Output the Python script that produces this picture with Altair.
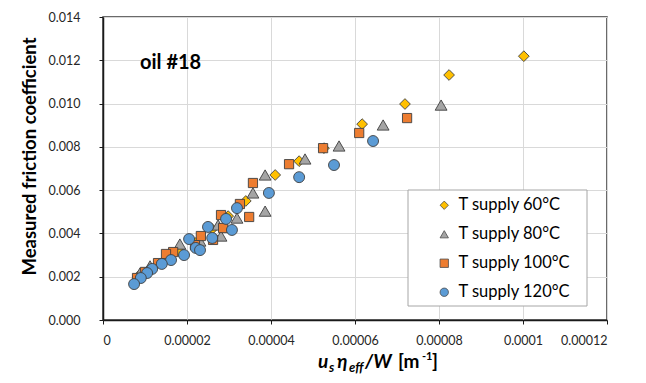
import altair as alt
import pandas as pd

# ---------------- data ----------------
series_names = ["T supply 60°C", "T supply 80°C", "T supply 100°C", "T supply 120°C"]
series_colors = ["#FFC000", "#A5A5A5", "#ED7D31", "#5B9BD5"]
series_shapes = ["diamond", "triangle-up", "square", "circle"]
series_sizes = [115, 140, 85, 120]

t60_x = [1.002e-4, 8.24e-5, 7.19e-5, 6.17e-5, 5.26e-5, 4.67e-5, 4.10e-5, 3.40e-5,
         2.98e-5, 2.60e-5, 2.21e-5, 1.83e-5, 1.43e-5, 1.07e-5, 8.3e-6]
t60_y = [0.01219, 0.01132, 0.00998, 0.00905, 0.00794, 0.00734, 0.00670, 0.00550,
         0.00480, 0.00420, 0.00356, 0.00314, 0.00268, 0.00226, 0.00200]

t80_x = [8.05e-5, 6.67e-5, 5.62e-5, 4.81e-5, 3.86e-5, 3.57e-5, 3.86e-5, 3.19e-5,
         2.74e-5, 2.81e-5, 1.83e-5, 2.31e-5, 1.48e-5, 1.12e-5, 8.8e-6]
t80_y = [0.00993, 0.00901, 0.00804, 0.00744, 0.00670, 0.00587, 0.00503, 0.00471,
         0.00439, 0.00388, 0.00351, 0.00365, 0.00286, 0.00250, 0.00217]

t100_x = [7.24e-5, 6.10e-5, 5.24e-5, 4.43e-5, 3.57e-5, 3.26e-5, 3.48e-5, 2.81e-5,
          2.86e-5, 2.62e-5, 2.33e-5, 2.19e-5, 1.67e-5, 1.50e-5, 1.31e-5, 1.00e-5, 8.1e-6]
t100_y = [0.00933, 0.00864, 0.00794, 0.00720, 0.00633, 0.00536, 0.00476, 0.00485,
          0.00425, 0.00370, 0.00388, 0.00346, 0.00314, 0.00305, 0.00263, 0.00222, 0.00194]

t120_x = [6.43e-5, 5.50e-5, 4.67e-5, 3.95e-5, 3.19e-5, 2.93e-5, 3.07e-5, 2.50e-5,
          2.60e-5, 2.05e-5, 2.21e-5, 2.31e-5, 1.93e-5, 1.62e-5, 1.40e-5, 1.17e-5,
          1.05e-5, 9.0e-6, 7.4e-6]
t120_y = [0.00827, 0.00716, 0.00660, 0.00587, 0.00517, 0.00467, 0.00416, 0.00430,
          0.00379, 0.00374, 0.00333, 0.00323, 0.00300, 0.00277, 0.00259, 0.00236,
          0.00217, 0.00194, 0.00166]

x_ticks = [0, 0.00002, 0.00004, 0.00006, 0.00008, 0.0001, 0.00012]
x_tick_labels = ["0", "0.00002", "0.00004", "0.00006", "0.00008", "0.0001", "0.00012"]
y_ticks = [0, 0.002, 0.004, 0.006, 0.008, 0.010, 0.012, 0.014]

annotation = ["oil #18"]
y_title = "Measured friction coefficient"
x_title_parts = ["u", "s", "η", "eff", "/W", "[m", "-1", "]"]

# ---------------- build table ----------------
rows = []
idx = 0
for name, xs, ys in zip(series_names, [t60_x, t80_x, t100_x, t120_x],
                        [t60_y, t80_y, t100_y, t120_y]):
    for xv, yv in zip(xs, ys):
        rows.append({"x": xv, "y": yv, "series": name, "idx": idx})
        idx += 1
df = pd.DataFrame(rows)

FONT = "Lato"
W, H = 504, 303

label_expr = "[" + ",".join("'" + s + "'" for s in x_tick_labels) + "][round(datum.value/0.00002)]"

x_enc = alt.X("x:Q", scale=alt.Scale(domain=[0, 0.00012], nice=False),
              axis=alt.Axis(values=x_ticks, labelExpr=label_expr, title=None,
                            grid=True, gridColor="#D9D9D9", domainColor="#1a1a1a",
                            domainWidth=1.5, tickColor="#1a1a1a", tickSize=4,
                            labelPadding=10, labelFontSize=12.5, labelFont=FONT,
                            labelColor="#262626"))
y_enc = alt.Y("y:Q", scale=alt.Scale(domain=[0, 0.014], nice=False),
              axis=alt.Axis(values=y_ticks, format=".3f", title=y_title,
                            grid=True, gridColor="#D9D9D9", domainColor="#1a1a1a",
                            domainWidth=1.5, tickColor="#1a1a1a", tickSize=4,
                            labelPadding=19, labelFontSize=12.5, labelFont=FONT,
                            labelColor="#262626", titleFont=FONT, titleFontSize=18.5,
                            titleFontWeight="bold", titleColor="#000000",
                            titlePadding=9, titleY=139))
color_enc = alt.Color("series:N", scale=alt.Scale(domain=series_names, range=series_colors),
                      legend=alt.Legend(title=None, orient="none", legendX=333, legendY=180,
                                        labelFont=FONT, labelFontSize=16.5, labelColor="#000000",
                                        symbolSize=70, symbolStrokeColor="#4a4a4a",
                                        symbolStrokeWidth=0.8, rowPadding=12, labelOffset=6,
                                        padding=0))
shape_enc = alt.Shape("series:N", scale=alt.Scale(domain=series_names, range=series_shapes))

# legend box (drawn below the point layers; no points fall inside it)
legend_box = alt.Chart(pd.DataFrame({"a": [1]})).mark_rect(
    fill="white", stroke="#A6A6A6", strokeWidth=1,
    x=305, x2=484, y=173, y2=289
).encode(opacity=alt.value(1))

point_layers = []
for name, size in zip(series_names, series_sizes):
    point_layers.append(
        alt.Chart(df).transform_filter(alt.datum.series == name).mark_point(
            filled=True, opacity=1, stroke="#404040", strokeWidth=0.9, size=size
        ).encode(x=x_enc, y=y_enc, color=color_enc, shape=shape_enc)
    )

note = alt.Chart(pd.DataFrame({"t": annotation})).mark_text(
    font=FONT, fontSize=20, fontWeight="bold", align="left", baseline="middle", color="#000000"
).encode(text="t:N", x=alt.value(37), y=alt.value(46))

# x-axis title built from pieces (plot-area pixel positions)
part_specs = [
    (x_title_parts[0], 215, 351, 19, "italic"),
    (x_title_parts[1], 226, 355, 13, "italic"),
    (x_title_parts[2], 234, 351, 19, "italic"),
    (x_title_parts[3], 246, 355, 13, "italic"),
    (x_title_parts[4], 262, 351, 19, "italic"),
    (x_title_parts[5], 295, 351, 19, "normal"),
    (x_title_parts[6], 319, 343, 11, "normal"),
    (x_title_parts[7], 329, 351, 19, "normal"),
]
title_layers = []
for t, px, py, fs, st in part_specs:
    title_layers.append(
        alt.Chart(pd.DataFrame({"t": [t]})).mark_text(
            font=FONT, fontSize=fs, fontWeight="bold", fontStyle=st,
            align="left", baseline="alphabetic", color="#000000"
        ).encode(text="t:N", x=alt.value(px), y=alt.value(py))
    )

chart = alt.layer(legend_box, *point_layers, note, *title_layers).properties(
    width=W, height=H,
    autosize=alt.AutoSizeParams(type="none"),
    padding={"left": 95, "top": 9, "right": 31, "bottom": 55},
    background="white",
).configure_view(stroke="#3a3a3a", strokeWidth=1.5)

chart.save("out.html", embed_options={"renderer": "svg", "actions": False})
